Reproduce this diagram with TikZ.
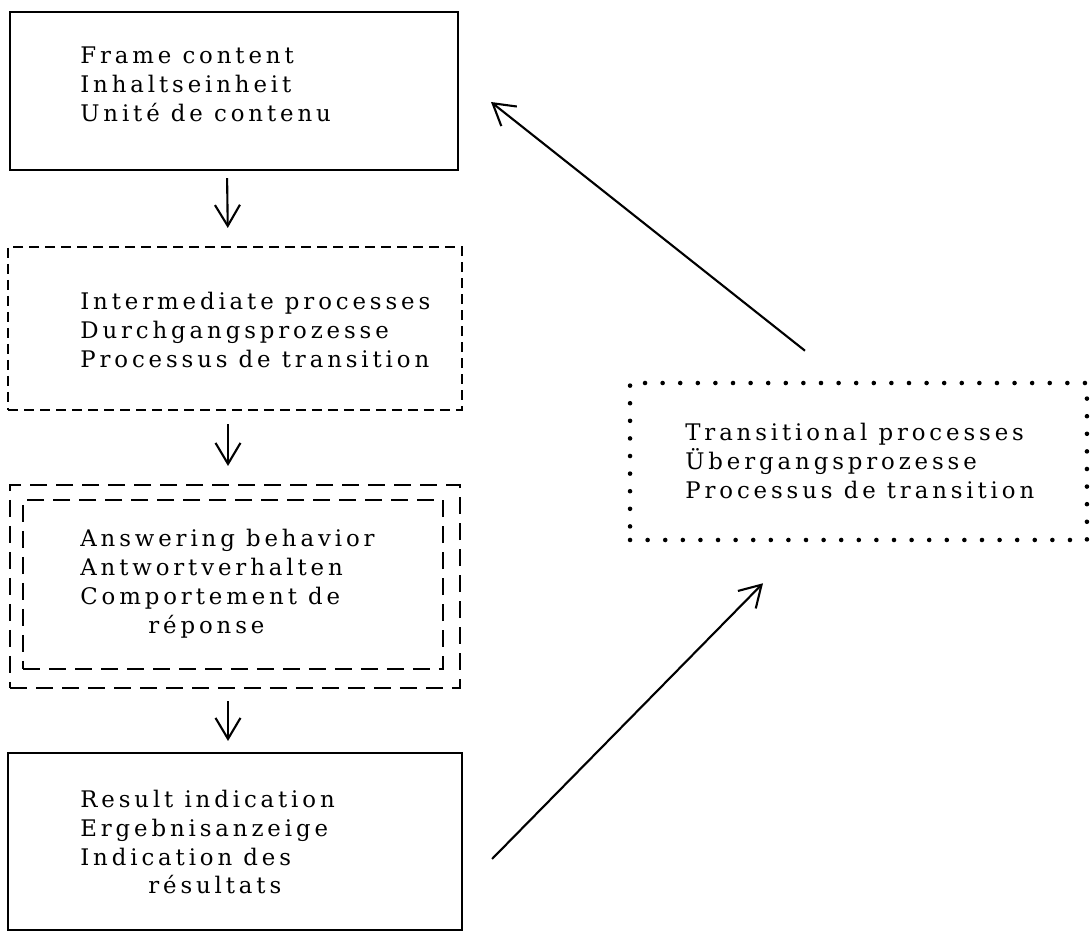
\documentclass[tikz,border=0pt]{standalone}
\usepackage{fontspec}
\setmainfont{DejaVu Serif}[LetterSpace=17]
\usetikzlibrary{arrows.meta}
\begin{document}
\begin{tikzpicture}[x=0.02cm, y=-0.02cm]
    % Define the styles for the boxes, texts and arrows
    \tikzstyle{box}=[rectangle, draw=black, line width=1.2pt, inner sep=0pt]
    \tikzstyle{shortdash}=[box, dash pattern=on 0.2cm off 0.12cm]
    \tikzstyle{longdash}=[box, dash pattern=on 0.34cm off 0.18cm]
    \tikzstyle{dotbox}=[rectangle, draw=black, line width=2.6pt, line cap=round, dash pattern=on 0pt off 0.352cm, inner sep=0pt]
    \tikzstyle{boxtext}=[anchor=west, inner sep=0pt, align=left, font=\fontsize{13}{16.5}\selectfont]
    \tikzstyle{arrow}=[line width=1.2pt, -{Straight Barb[length=0.42cm, width=0.5cm]}]

    \useasboundingbox (0,0) rectangle (1090,932);

    % Draw the boxes
    \node[box, minimum width=8.96cm, minimum height=3.16cm] (frame) at (234, 91) {};
    \node[shortdash, minimum width=9.08cm, minimum height=3.26cm] (inter) at (235, 328.5) {};
    \node[longdash, minimum width=9cm, minimum height=4.06cm] (answer_outer) at (235, 586.5) {};
    \node[longdash, minimum width=8.4cm, minimum height=3.38cm] (answer_inner) at (233, 584.5) {};
    \node[box, minimum width=9.08cm, minimum height=3.54cm] (result) at (235, 841.5) {};
    \node[dotbox, minimum width=9.14cm, minimum height=3.14cm] (trans) at (858.5, 461.5) {};

    % Draw the texts inside the boxes
    \node[boxtext] (frame_text) at (80, 84.5) {Frame content\\Inhaltseinheit\\Unité de contenu};
    \node[boxtext] (inter_text) at (80, 329.5) {Intermediate processes\\Durchgangsprozesse\\Processus de transition};
    \node[boxtext] (answer_text) at (80, 584) {Answering behavior\\Antwortverhalten\\Comportement de\\\hspace*{1.36cm}réponse};
    \node[boxtext] (result_text) at (80, 842) {Result indication\\Ergebnisanzeige\\Indication des\\\hspace*{1.36cm}résultats};
    \node[boxtext] (trans_text) at (685, 460.5) {Transitional processes\\Übergangsprozesse\\Processus de transition};

    % Draw the arrows between the boxes
    \draw[arrow, shorten <=0.14cm, shorten >=0.36cm] ([xshift=-0.14cm]frame.south) -- ([xshift=-0.14cm]inter.north);
    \draw[arrow, shorten <=0.26cm, shorten >=0.36cm] ([xshift=-0.14cm]inter.south) -- ([xshift=-0.14cm]answer_outer.north);
    \draw[arrow, shorten <=0.24cm, shorten >=0.22cm] ([xshift=-0.14cm]answer_outer.south) -- ([xshift=-0.14cm]result.north);
    \draw[arrow] ([shift={(29,17.5)}]result.east) -- ([shift={(-95.5,41)}]trans.south);
    \draw[arrow] ([shift={(-53.5,-30)}]trans.north) -- ([shift={(32,11)}]frame.east);
\end{tikzpicture}
\end{document}
